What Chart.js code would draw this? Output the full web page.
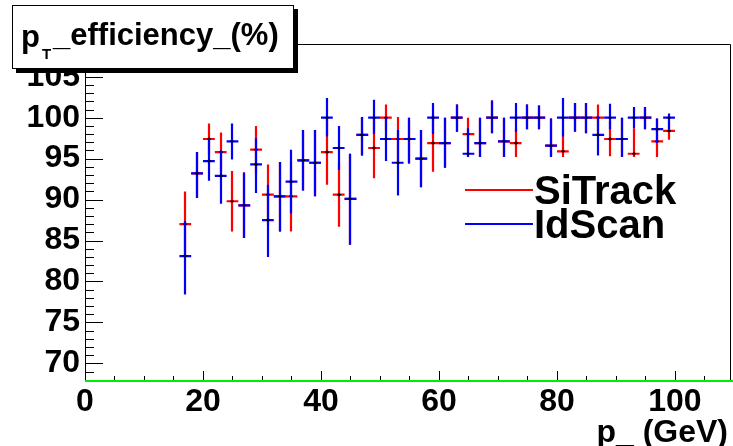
<!DOCTYPE html>
<html><head><meta charset="utf-8">
<script src="https://cdn.jsdelivr.net/npm/chart.js@4/dist/chart.umd.min.js"></script>
<style>html,body{margin:0;padding:0;background:#fff;}#wrap{width:733px;height:446px;position:relative;}</style>
</head><body><div id="wrap"><canvas id="c" width="733" height="446"></canvas></div>
<script>
// ---- data ----
const ptBins = [17,19,21,23,25,27,29,31,33,35,37,39,41,43,45,47,49,51,53,55,57,59,61,63,65,67,69,71,73,75,77,79,81,83,85,87,89,91,93,95,97,99];
const binHalfWidth = 1;
const siTrackEff = [87.0,93.2,97.4,95.8,89.8,89.3,96.1,90.6,90.4,90.4,94.8,94.5,95.8,90.6,90.1,97.9,96.3,100,97.4,97.4,95.0,96.9,96.9,100,98.0,96.9,100,97.1,96.9,100,100,96.6,95.9,100,100,100,97.4,97.4,95.6,100,97.1,98.4];
const siTrackErrUp = [4.0,2.6,1.9,2.4,3.7,4.0,2.9,3.7,4.2,4.2,3.7,4.0,4.0,3.9,5.5,2.2,3.7,1.6,2.7,2.6,3.5,3.5,3.1,1.6,2.0,3.1,2.1,2.9,1.7,1.6,1.5,3.3,2.6,1.8,1.8,1.6,2.2,2.6,3.1,1.3,2.8,1.1];
const siTrackErrDown = [4.0,3.0,1.9,2.4,3.7,4.0,2.9,3.7,4.3,4.3,3.7,4.1,4.0,3.9,5.6,2.5,3.7,1.6,2.7,3.0,3.5,3.5,3.0,1.7,2.0,1.7,1.9,1.9,1.7,1.4,1.4,1.4,0.7,1.7,1.9,1.6,2.1,2.2,0.4,1.4,1.9,1.1];
const idScanEff = [83.1,93.2,94.7,92.9,97.1,89.3,94.3,87.5,90.4,92.2,94.8,94.5,100,96.3,90.1,97.9,100,97.4,94.5,97.4,95.0,100,96.9,100,95.6,96.9,100,97.1,100,100,100,96.6,100,100,100,97.9,100,97.4,100,100,98.6,100];
const idScanErrUp = [4.3,2.6,2.7,3.1,2.2,4.0,3.2,4.3,4.2,3.9,3.7,4.0,2.4,2.7,5.5,2.2,2.2,2.6,4.0,2.6,3.5,1.8,3.1,1.6,3.1,3.1,2.1,2.9,1.8,1.6,1.5,3.3,2.4,1.8,1.8,2.3,1.7,2.6,1.3,1.3,1.3,0.5];
const idScanErrDown = [4.7,3.0,2.4,3.4,2.2,4.0,3.5,4.5,4.3,3.9,3.7,4.1,2.3,2.7,5.6,2.5,2.0,2.7,4.0,3.0,3.5,2.0,3.0,1.7,0.4,1.7,1.9,1.9,1.7,1.4,1.4,1.4,2.3,1.7,1.9,2.5,1.4,2.2,1.3,1.4,1.7,1.4];
const xTickValues = [0,20,40,60,80,100];
const yTickValues = [70,75,80,85,90,95,100,105];
const xRange = [0, 109.5];
const yRange = [67.85, 109.0];
const seriesNames = ['SiTrack','IdScan'];
const chartTitle = ['p','T','_efficiency_(%)'];
const xAxisTitle = 'p_ (GeV)';

const series = [
  {name: seriesNames[0], color:'#ff0000', v: siTrackEff, up: siTrackErrUp, dn: siTrackErrDown},
  {name: seriesNames[1], color:'#0000ff', v: idScanEff, up: idScanErrUp, dn: idScanErrDown}
];

const FONT = '"Liberation Sans", Arial, Helvetica, sans-serif';

const rootPlugin = {
  id: 'rootStyle',
  beforeDraw(chart) {
    const ctx = chart.ctx;
    ctx.save(); ctx.fillStyle = '#fff'; ctx.fillRect(0,0,chart.width,chart.height); ctx.restore();
  },
  afterDatasetsDraw(chart) {
    const {ctx, chartArea:a, scales:{x, y}} = chart;
    ctx.save();
    ctx.beginPath(); ctx.rect(a.left, a.top, a.right-a.left, a.bottom-a.top); ctx.clip();
    chart.data.datasets.forEach((ds, di) => {
      const s = series[di];
      ctx.strokeStyle = ds.borderColor; ctx.lineWidth = 2.2; ctx.lineCap = 'butt';
      ptBins.forEach((xv, i) => {
        const px = Math.round(x.getPixelForValue(xv));
        const py = y.getPixelForValue(s.v[i]);
        const top = y.getPixelForValue(s.v[i] + s.up[i]);
        const bot = y.getPixelForValue(s.v[i] - s.dn[i]);
        const l = x.getPixelForValue(xv - binHalfWidth);
        const r = x.getPixelForValue(xv + binHalfWidth);
        ctx.beginPath();
        ctx.moveTo(px, top); ctx.lineTo(px, bot);
        ctx.moveTo(l, py); ctx.lineTo(r, py);
        ctx.stroke();
      });
      ctx.strokeStyle = '#000'; ctx.lineWidth = 1.2;
      ptBins.forEach((xv, i) => {
        const px = Math.round(x.getPixelForValue(xv));
        const py = y.getPixelForValue(s.v[i]);
        ctx.beginPath();
        ctx.moveTo(px-2, py); ctx.lineTo(px+2, py);
        ctx.moveTo(px, py-1.5); ctx.lineTo(px, py+1.5);
        ctx.stroke();
      });
    });
    ctx.restore();
  },
  afterDraw(chart) {
    const {ctx, chartArea:a, scales:{x, y}} = chart;
    ctx.save();
    // frame
    ctx.strokeStyle = '#000'; ctx.lineWidth = 1;
    ctx.beginPath();
    ctx.moveTo(a.left+0.5, a.bottom); ctx.lineTo(a.left+0.5, a.top+0.5);
    ctx.lineTo(a.right-0.5, a.top+0.5); ctx.lineTo(a.right-0.5, a.bottom);
    ctx.stroke();
    // y ticks (inside)
    ctx.beginPath();
    for (let v = Math.ceil(yRange[0]); v <= yRange[1]; v++) {
      const py = Math.round(y.getPixelForValue(v)) + 0.5;
      const len = (v % 5 === 0) ? 18 : 9;
      ctx.moveTo(a.left, py); ctx.lineTo(a.left + len, py);
    }
    // x ticks (inside)
    for (let v = 0; v <= xRange[1]; v += 5) {
      const px = Math.round(x.getPixelForValue(v)) + 0.5;
      const len = (v % 20 === 0) ? 10 : 5;
      ctx.moveTo(px, a.bottom); ctx.lineTo(px, a.bottom - len);
    }
    ctx.stroke();
    // green bottom line
    ctx.strokeStyle = '#00ee00'; ctx.lineWidth = 2;
    ctx.beginPath(); ctx.moveTo(a.left, a.bottom); ctx.lineTo(chart.width, a.bottom); ctx.stroke();

    // legend
    const legY = [190, 224];
    chart.data.datasets.forEach((ds, i) => {
      ctx.strokeStyle = ds.borderColor; ctx.lineWidth = 2;
      ctx.beginPath(); ctx.moveTo(465, legY[i]); ctx.lineTo(533, legY[i]); ctx.stroke();
      ctx.fillStyle = '#000'; ctx.font = 'bold 40px ' + FONT;
      ctx.textBaseline = 'alphabetic'; ctx.textAlign = 'left';
      ctx.fillText(ds.label, 534, legY[i] + 14);
    });

    // x-axis title
    ctx.fillStyle = '#000'; ctx.font = 'bold 32px ' + FONT; ctx.textAlign = 'right'; ctx.textBaseline = 'alphabetic';
    ctx.fillText(xAxisTitle, 728, 442);

    // title box with shadow
    ctx.fillStyle = '#000';
    ctx.fillRect(16, 9, 282, 64);
    ctx.fillStyle = '#fff';
    ctx.fillRect(12, 5, 282, 64);
    ctx.strokeStyle = '#000'; ctx.lineWidth = 1;
    ctx.strokeRect(12.5, 5.5, 281, 63);
    ctx.fillStyle = '#000'; ctx.textAlign = 'left'; ctx.textBaseline = 'alphabetic';
    ctx.font = 'bold 31px ' + FONT;
    ctx.fillText(chartTitle[0], 21, 47);
    ctx.font = 'bold 15px ' + FONT;
    ctx.fillText(chartTitle[1], 42, 59);
    ctx.font = 'bold 31px ' + FONT;
    ctx.fillText(chartTitle[2], 53, 45);
    ctx.restore();
  }
};

new Chart(document.getElementById('c'), {
  type: 'scatter',
  data: {
    datasets: series.map(s => ({
      label: s.name,
      data: ptBins.map((xv, i) => ({x: xv, y: s.v[i]})),
      borderColor: s.color,
      backgroundColor: s.color,
      pointRadius: 0,
      showLine: false
    }))
  },
  options: {
    responsive: false,
    animation: false,
    events: [],
    layout: {padding: {top: 44, right: 2, left: 0, bottom: 0}},
    plugins: {legend: {display: false}, tooltip: {enabled: false}, title: {display: false}},
    scales: {
      x: {
        type: 'linear', min: xRange[0], max: xRange[1],
        grid: {display: false, drawTicks: false},
        border: {display: false},
        afterBuildTicks: sc => { sc.ticks = xTickValues.map(v => ({value: v})); },
        afterFit: sc => { sc.height = 65; },
        ticks: {font: {family: FONT, size: 32, weight: 'bold'}, color: '#000', padding: 2, maxRotation: 0, autoSkip: false}
      },
      y: {
        type: 'linear', min: yRange[0], max: yRange[1],
        grid: {display: false, drawTicks: false},
        border: {display: false},
        afterBuildTicks: sc => { sc.ticks = yTickValues.map(v => ({value: v})); },
        afterFit: sc => { sc.width = 85; },
        ticks: {font: {family: FONT, size: 32, weight: 'bold'}, color: '#000', padding: 5, autoSkip: false}
      }
    }
  },
  plugins: [rootPlugin]
});
</script></body></html>
